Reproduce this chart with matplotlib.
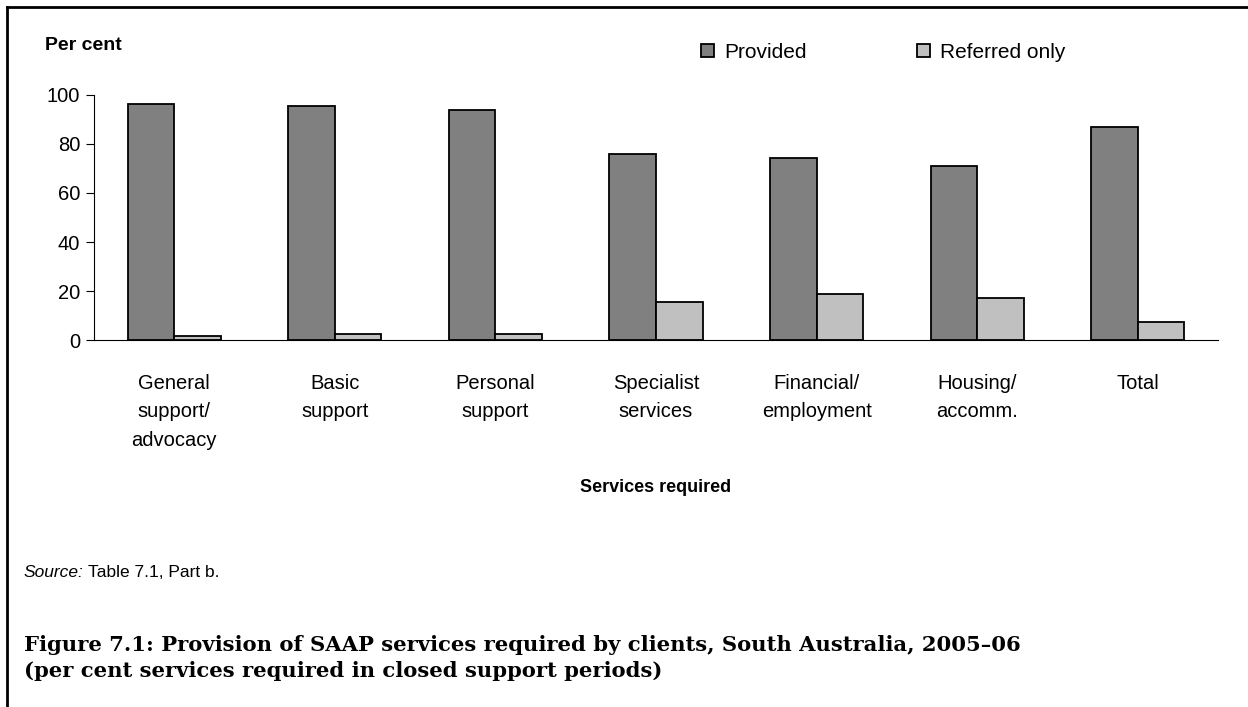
import numpy as np
import matplotlib.pyplot as plt
from matplotlib.lines import Line2D

plt.rcParams['font.family'] = ['Liberation Sans', 'DejaVu Sans']

categories = ['General\nsupport/\nadvocacy', 'Basic\nsupport', 'Personal\nsupport',
              'Specialist\nservices', 'Financial/\nemployment', 'Housing/\naccomm.', 'Total']
provided = [96.1, 95.3, 93.8, 75.7, 74.1, 71.0, 87.0]
referred = [1.6, 2.6, 2.6, 15.5, 18.9, 17.3, 7.3]
yticks = [0, 20, 40, 60, 80, 100]

fig = plt.figure(figsize=(12.48, 7.07), dpi=100)
ax = fig.add_axes([0.0753, 0.5187, 0.9007, 0.3473])

x = np.arange(len(categories))
w = 0.29
b1 = ax.bar(x - w / 2, provided, w, color='#808080', edgecolor='black', linewidth=1.3, label='Provided')
b2 = ax.bar(x + w / 2, referred, w, color='#c0c0c0', edgecolor='black', linewidth=1.3, label='Referred only')

ax.set_xlim(-0.5, len(categories) - 0.5)
ax.set_ylim(0, 100)
ax.set_yticks(yticks)
ax.set_xticks(x)
ax.set_xticklabels(categories, fontsize=14.5, linespacing=1.63)
ax.tick_params(axis='x', length=0, pad=24)
ax.tick_params(axis='y', length=6, width=0.8, labelsize=14.5, pad=4)
for s in ['top', 'right']:
    ax.spines[s].set_visible(False)
ax.spines['left'].set_linewidth(0.8)
ax.spines['bottom'].set_linewidth(0.8)

ax.legend(handles=[b1, b2], ncol=2, frameon=False, fontsize=15,
          loc='center left', bbox_to_anchor=(0.5615, 0.926), bbox_transform=fig.transFigure,
          handlelength=0.62, handleheight=0.62, handletextpad=0.5, columnspacing=5.3,
          borderaxespad=0, borderpad=0)

fig.text(45 / 1248, 1 - 45 / 707, 'Per cent', fontsize=14, fontweight='bold', va='center', ha='left')
fig.text(656 / 1248, 1 - 488 / 707, 'Services required', fontsize=13, fontweight='bold',
         va='center', ha='center')
src = fig.text(24 / 1248, 1 - 577 / 707, 'Source:', fontsize=12.5, style='italic', va='baseline', ha='left')
fig.canvas.draw()
bb = src.get_window_extent()
fig.text((bb.x1 + 4) / 1248, 1 - 577 / 707, 'Table 7.1, Part b.', fontsize=12.5, va='baseline', ha='left')
fig.text(24 / 1248, 1 - 658 / 707,
         'Figure 7.1: Provision of SAAP services required by clients, South Australia, 2005\u201306\n'
         '(per cent services required in closed support periods)',
         fontsize=15.2, fontweight='bold', family='DejaVu Serif', va='center', ha='left', linespacing=1.4)

# page frame
fig.add_artist(Line2D([7 / 1248, 7 / 1248], [0, 1 - 7 / 707], color='black', linewidth=2, transform=fig.transFigure))
fig.add_artist(Line2D([7 / 1248, 1], [1 - 7 / 707, 1 - 7 / 707], color='black', linewidth=2, transform=fig.transFigure))

fig.savefig('out.png', dpi=100)
